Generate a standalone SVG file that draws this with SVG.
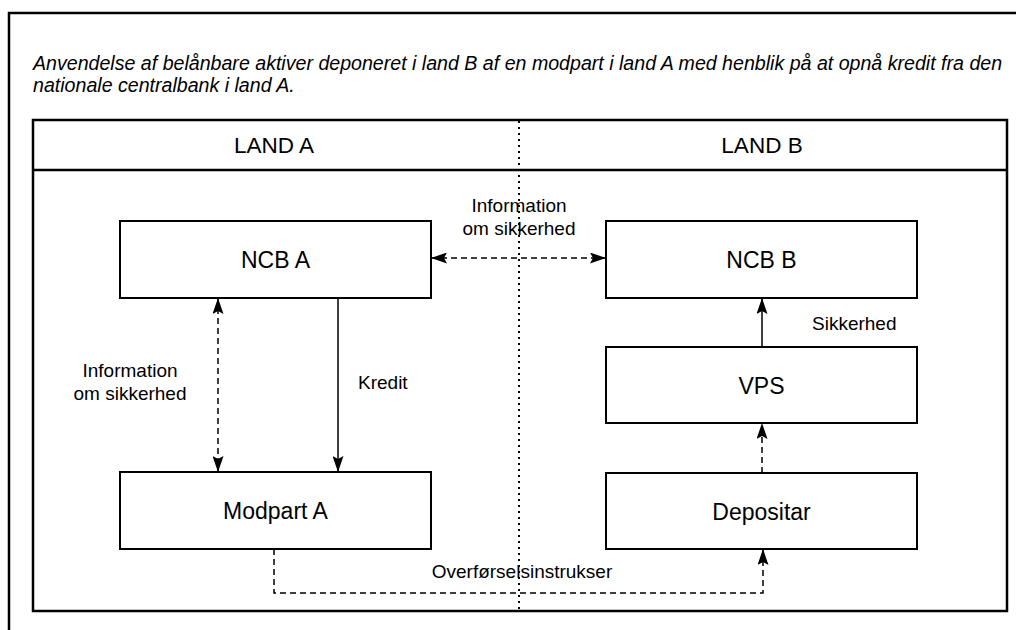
<svg xmlns="http://www.w3.org/2000/svg" width="1016" height="630" viewBox="0 0 1016 630">
  <style>
    text { font-family: "Liberation Sans", Arial, sans-serif; fill: #000; }
    .title { font-size: 19.6px; font-style: italic; }
    .hdr { font-size: 22.5px; text-anchor: middle; }
    .lbl { font-size: 23px; text-anchor: middle; }
    .clbl { font-size: 19px; text-anchor: middle; }
    .box { fill: #fff; stroke: #000; stroke-width: 2; }
    .frame { fill: none; stroke: #000; stroke-width: 2.5; }
    .solid { fill: none; stroke: #000; stroke-width: 1.5; }
    .dash { fill: none; stroke: #000; stroke-width: 1.5; stroke-dasharray: 6 4; }
    .dots { fill: none; stroke: #000; stroke-width: 2; stroke-dasharray: 2 4; }
  </style>
  <defs>
    <marker id="ah" viewBox="0 0 16 11" refX="16" refY="5.5" markerWidth="16" markerHeight="11" markerUnits="userSpaceOnUse" orient="auto-start-reverse">
      <path d="M0,0 L16,5.5 L0,11 L3,5.5 z" fill="#000"/>
    </marker>
  </defs>
  <rect width="1016" height="630" fill="#fff"/>
  <rect class="frame" x="9" y="13" width="1030" height="640"/>
  <text class="title" x="33" y="70">Anvendelse af belånbare aktiver deponeret i land B af en modpart i land A med henblik på at opnå kredit fra den</text>
  <text class="title" x="33" y="92">nationale centralbank i land A.</text>

  <g id="frame">
    <rect class="frame" x="33" y="120" width="974" height="491"/>
    <line class="frame" x1="33" y1="170" x2="1007" y2="170"/>
    <line class="dots" x1="519" y1="121" x2="519" y2="610"/>
    <text class="hdr" x="274" y="153">LAND A</text>
    <text class="hdr" x="762" y="153">LAND B</text>
  </g>

  <g id="connectors">
    <line class="dash" x1="431" y1="258" x2="606" y2="258" marker-start="url(#ah)" marker-end="url(#ah)"/>
    <line class="dash" x1="218" y1="298" x2="218" y2="472" marker-start="url(#ah)" marker-end="url(#ah)"/>
    <line class="solid" x1="338" y1="298" x2="338" y2="472" marker-end="url(#ah)"/>
    <line class="solid" x1="762" y1="347" x2="762" y2="298" marker-end="url(#ah)"/>
    <line class="dash" x1="762" y1="473" x2="762" y2="423" marker-end="url(#ah)"/>
    <polyline class="dash" points="274,549 274,593 763,593 763,549" marker-end="url(#ah)"/>
    <text class="clbl" x="519" y="212">Information</text>
    <text class="clbl" x="519" y="235">om sikkerhed</text>
    <text class="clbl" x="130" y="377">Information</text>
    <text class="clbl" x="130" y="400">om sikkerhed</text>
    <text class="clbl" x="358" y="389" style="text-anchor:start">Kredit</text>
    <text class="clbl" x="812" y="330" style="text-anchor:start">Sikkerhed</text>
    <text class="clbl" x="522" y="578">Overførselsinstrukser</text>
  </g>

  <g id="ncb-a">
    <rect class="box" x="120" y="221" width="311" height="77"/>
    <text class="lbl" x="275.5" y="268">NCB A</text>
  </g>
  <g id="ncb-b">
    <rect class="box" x="606" y="221" width="311" height="77"/>
    <text class="lbl" x="761.5" y="268">NCB B</text>
  </g>
  <g id="vps">
    <rect class="box" x="606" y="347" width="311" height="76"/>
    <text class="lbl" x="761.5" y="394">VPS</text>
  </g>
  <g id="modpart-a">
    <rect class="box" x="120" y="472" width="311" height="77"/>
    <text class="lbl" x="275.5" y="519">Modpart A</text>
  </g>
  <g id="depositar">
    <rect class="box" x="606" y="473" width="311" height="76"/>
    <text class="lbl" x="761.5" y="520">Depositar</text>
  </g>
</svg>
